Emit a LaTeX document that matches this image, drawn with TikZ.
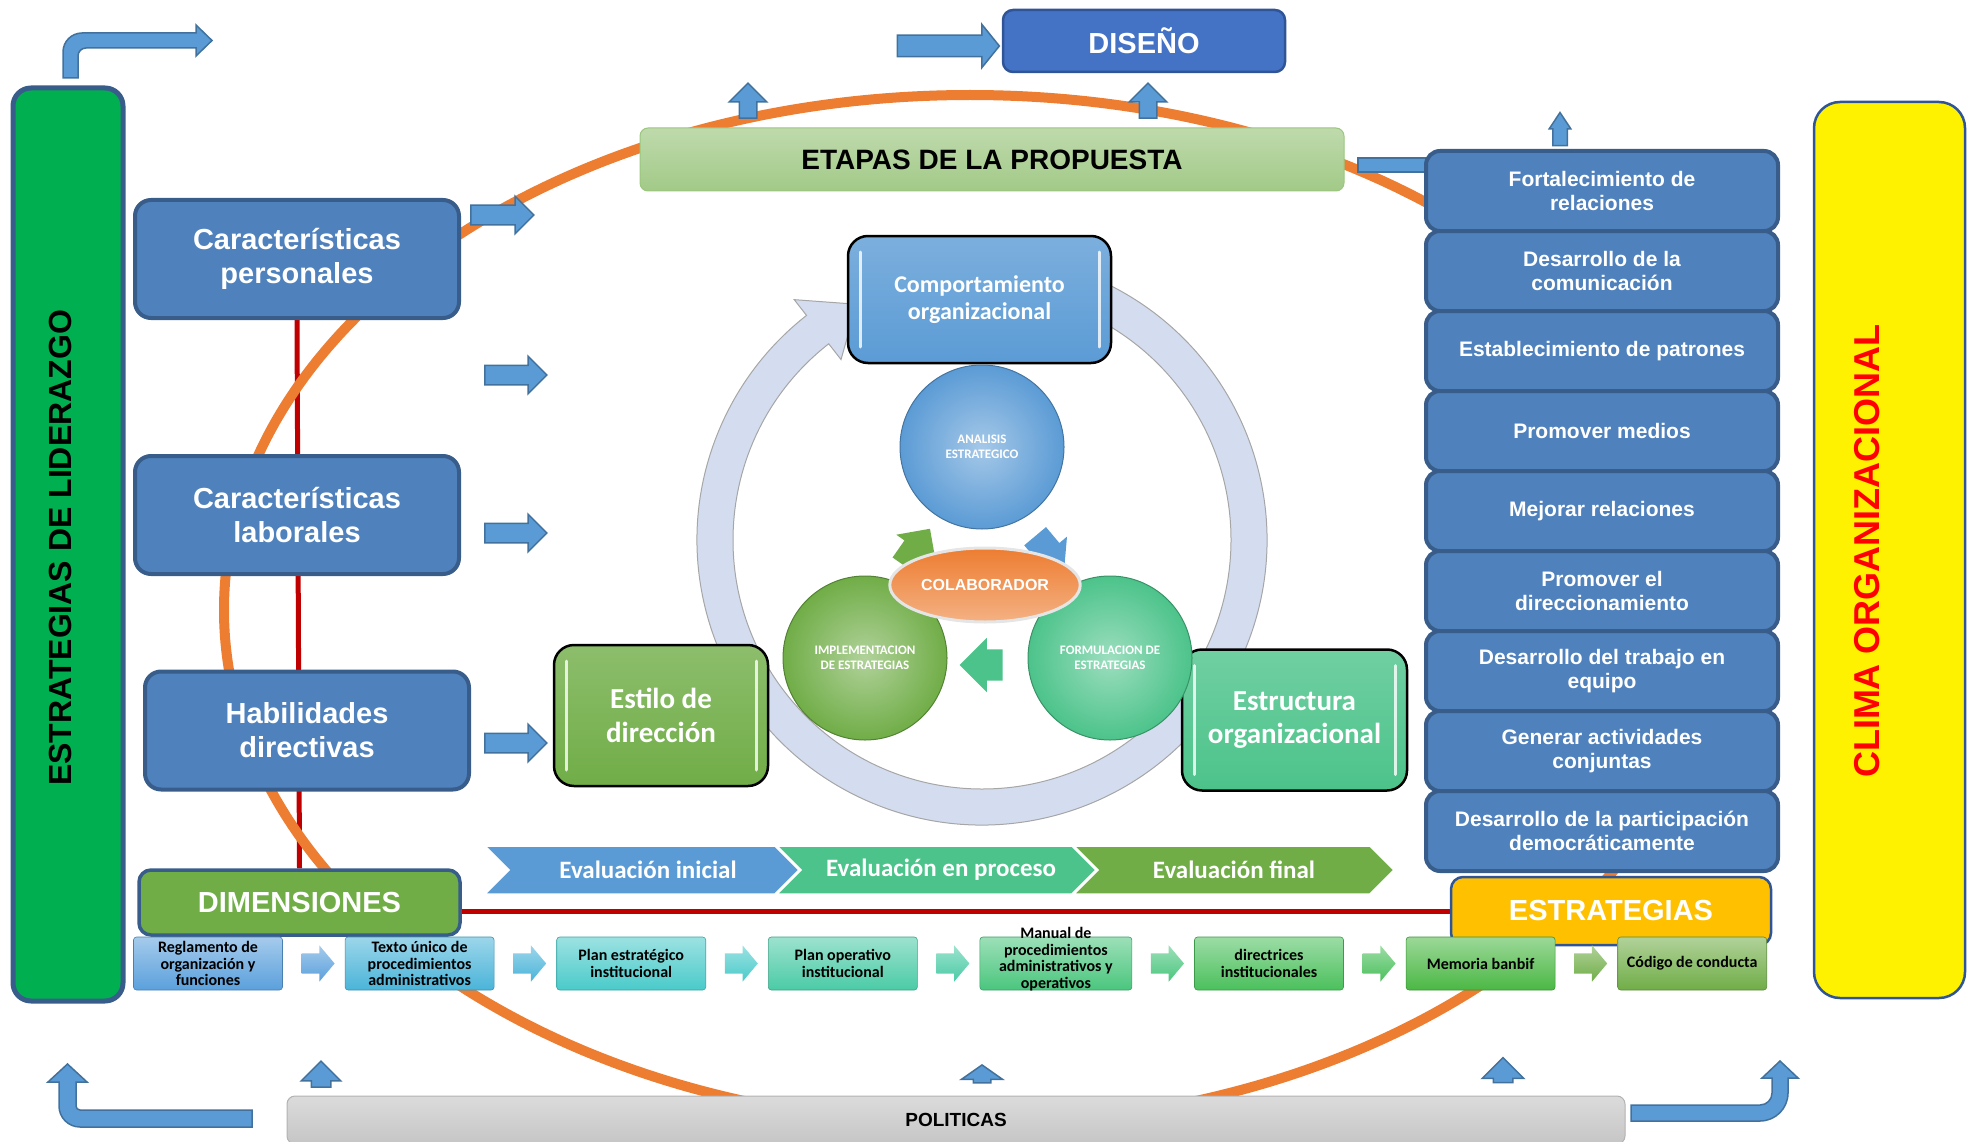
\documentclass[tikz,border=0pt]{standalone}
\usepackage{fontspec}
\setmainfont{Liberation Sans}
\newfontfamily\calibri{Carlito}
\usetikzlibrary{positioning,calc,shapes.arrows,shapes.geometric,backgrounds}

\definecolor{boxblue}{HTML}{4F81BD}
\definecolor{boxrim}{HTML}{385D8A}
\definecolor{arrowblue}{HTML}{5B9BD5}
\definecolor{arrowrim}{HTML}{41719C}
\definecolor{leafgreen}{HTML}{70AD47}
\definecolor{seagreen}{HTML}{4CC38A}
\definecolor{linered}{HTML}{C00000}
\definecolor{ringorange}{HTML}{ED7D31}
\definecolor{cyclefill}{HTML}{D3DDEF}
\definecolor{amber}{HTML}{FFC000}
\definecolor{designblue}{HTML}{4472C4}
\definecolor{bargreen}{HTML}{00B050}
\definecolor{darkrim}{HTML}{2F5597}
\definecolor{docA}{HTML}{5BA0DC}
\definecolor{docB}{HTML}{4BB4D9}
\definecolor{docC}{HTML}{4BCACA}
\definecolor{docD}{HTML}{4BCBA6}
\definecolor{docE}{HTML}{4BC67E}
\definecolor{docF}{HTML}{4BC05C}
\definecolor{docG}{HTML}{4BB844}
\definecolor{docH}{HTML}{70AD47}

\begin{document}
\begin{tikzpicture}[x=1pt, y=-1pt,
    leftbox/.style={rectangle, rounded corners=16, draw=boxrim, line width=4, fill=boxblue,
      text=white, align=center, minimum width=324, minimum height=118,
      font=\bfseries\fontsize{29}{34}\selectfont},
    colbox/.style={rectangle, rounded corners=14, draw=boxrim, line width=4, fill=boxblue,
      text=white, align=center, minimum width=352, minimum height=80, outer sep=0,
      font=\bfseries\fontsize{21}{24.5}\selectfont},
    titlebox/.style={rectangle, rounded corners=10, line width=2.5, text=white,
      font=\bfseries\fontsize{29}{34}\selectfont},
    stagebox/.style={rectangle, rounded corners=20, draw=black, line width=2.5,
      top color=#1!80!white, bottom color=#1, text=white, align=center,
      font=\calibri\bfseries\fontsize{29}{33.5}\selectfont,
      path picture={\draw[white, line width=3, line cap=round, opacity=.8]
        ([xshift=12pt,yshift=-16pt]path picture bounding box.north west) --
        ([xshift=12pt,yshift=16pt]path picture bounding box.south west)
        ([xshift=-12pt,yshift=-16pt]path picture bounding box.north east) --
        ([xshift=-12pt,yshift=16pt]path picture bounding box.south east);}},
    ball/.style={circle, minimum size=164, inner sep=0, draw=#1!75!black, line width=1,
      inner color=#1!55!white, outer color=#1, text=white, align=center,
      font=\calibri\bfseries\fontsize{13}{15.5}\selectfont},
    docbox/.style={rectangle, rounded corners=3, draw=#1!80!black, line width=.6,
      top color=#1!55!white, bottom color=#1, minimum width=149, minimum height=53,
      inner sep=1, align=center, font=\calibri\bfseries\fontsize{16}{16.7}\selectfont},
    docarrow/.style={single arrow, top color=#1!55!white, bottom color=#1,
      inner xsep=0, inner ysep=10, single arrow tip angle=100,
      single arrow head extend=8, minimum height=33},
    blockarrow/.style={single arrow, draw=arrowrim, fill=arrowblue, line width=1.5,
      inner xsep=0, inner ysep=9, single arrow head extend=9, minimum height=62},
    cyclearrow/.style={single arrow, fill=#1, inner xsep=0, inner ysep=14,
      minimum height=45, single arrow head extend=10},
    bentarrow/.style={draw=arrowrim, fill=arrowblue, line width=1.5},
    evalstep/.style={draw=white, line width=1.5},
    evallabel/.style={text=white, font=\calibri\bfseries\fontsize{25}{28}\selectfont},
    linkline/.style={linered, line width=5}]

  \useasboundingbox (0,0) rectangle (1975,1142);

  % side frames
  \node[rectangle, rounded corners=18, fill=bargreen, draw=boxrim, line width=5,
        minimum width=110, minimum height=913] (lid) at (68,544.5) {};
  \node[rotate=90, font=\bfseries\fontsize{32}{36}\selectfont] (lidtext) at (60,548) {ESTRATEGIAS DE LIDERAZGO};
  \node[rectangle, rounded corners=26, fill=yellow, draw=darkrim, line width=2.5,
        minimum width=151, minimum height=896] (clima) at (1889.5,550) {};
  \node[rotate=90, text=red, font=\bfseries\fontsize{36}{40}\selectfont] (climatext) at (1867,551) {CLIMA ORGANIZACIONAL};

  % top row
  \node[titlebox, fill=designblue, draw=darkrim, minimum width=282, minimum height=62] (diseno) at (1144,41) {DISEÑO};
  \node[blockarrow, minimum height=102, inner ysep=10, single arrow head extend=11,
        single arrow tip angle=102] (toDiseno) at (944,46) {};
  \node[blockarrow, rotate=90, minimum height=35, inner ysep=8, single arrow head extend=10] (upA) at (748,105) {};
  \node[blockarrow, rotate=90, minimum height=35, inner ysep=8, single arrow head extend=10] (upB) at (1148,105) {};
  \node[rectangle, rounded corners=8, draw=leafgreen!70!white, line width=1,
        top color=leafgreen!45!white, bottom color=leafgreen!65!white,
        minimum width=704, minimum height=63,
        font=\bfseries\fontsize{28}{32}\selectfont] (etapas) at (992,159.5) {ETAPAS DE LA PROPUESTA};

  % left column
  \node[leftbox] (pers) at (297,259) {Características\\personales};
  \node[leftbox] (lab) at (297,515) {Características\\laborales};
  \node[leftbox] (hab) at (307,730.5) {Habilidades\\directivas};
  \node[titlebox, fill=leafgreen, draw=boxrim, line width=3.5, rounded corners=12,
        minimum width=321, minimum height=65] (dim) at (299.5,902.5) {DIMENSIONES};
  \node[titlebox, fill=amber, draw=darkrim, rounded corners=12,
        minimum width=320, minimum height=68] (estr) at (1611,911) {ESTRATEGIAS};

  \begin{pgfonlayer}{background}
    \draw[linkline] (pers.south) -- (dim.north);
    \draw[linkline] (dim.east |- estr.west) -- (estr.west);
    \draw[ringorange, line width=10] (970,610) ellipse [x radius=746, y radius=515];
  \end{pgfonlayer}

  \node[blockarrow, minimum height=63] (persArrow) at (497.5,215) {};
  \node[blockarrow] (midArrow) at (511,375) {};
  \node[blockarrow] (labArrow) at (511,533) {};
  \node[blockarrow] (habArrow) at (511,743) {};

  % cycle in the middle
  \begin{scope}[shift={(982,540)}]
    \filldraw[fill=cyclefill, draw=gray!70, line width=1]
      (-65:285) arc[start angle=-65, end angle=232, radius=285]
      -- (232:305) -- (242:267) -- (232:229) -- (232:249)
      arc[start angle=232, end angle=-65, radius=249] -- cycle;
  \end{scope}

  \node[stagebox=arrowblue, minimum width=263, minimum height=127,
        font=\calibri\bfseries\fontsize{24}{27}\selectfont] (comp) at (979.5,299.5) {Comportamiento\\organizacional};
  \node[stagebox=leafgreen, minimum width=214, minimum height=141] (estilo) at (661,715.5) {Estilo de\\dirección};
  \node[stagebox=seagreen, minimum width=225, minimum height=141] (estruct) at (1294.5,720) {Estructura\\organizacional};

  \node[ball=arrowblue] (analisis) at (982,447) {ANALISIS\\ESTRATEGICO};
  \node[ball=leafgreen] (implem) at (865,658) {IMPLEMENTACION\\DE ESTRATEGIAS};
  \node[ball=seagreen] (formul) at (1110,658) {FORMULACION DE\\ESTRATEGIAS};

  \node[cyclearrow=leafgreen, rotate=55] (toAnalisis) at (913,553) {};
  \node[cyclearrow=arrowblue, rotate=-50] (toFormul) at (1045,548) {};
  \node[cyclearrow=seagreen, rotate=180, minimum height=43, inner ysep=15.5,
        single arrow head extend=11.5] (toImplem) at (989,665) {};

  \node[ellipse, minimum width=182, minimum height=74, draw=gray!20, line width=3,
        top color=ringorange, bottom color=ringorange!60!white, text=white,
        font=\bfseries\fontsize{16}{18}\selectfont] (colab) at (985,585) {COLABORADOR};

  % evaluation steps
  \filldraw[evalstep, fill=arrowblue] (485,846) -- (775,846) -- (799,870) -- (775,894) -- (485,894) -- (509,870) -- cycle;
  \filldraw[evalstep, fill=seagreen] (777,846) -- (1072,846) -- (1096,870) -- (1072,894) -- (777,894) -- (801,870) -- cycle;
  \filldraw[evalstep, fill=leafgreen] (1074,846) -- (1370,846) -- (1394,870) -- (1370,894) -- (1074,894) -- (1098,870) -- cycle;
  \node[evallabel] (ev1) at (648,870) {Evaluación inicial};
  \node[evallabel] (ev2) at (941,870) {Evaluación en proceso};
  \node[evallabel] (ev3) at (1234,870) {Evaluación final};

  % right column
  \node[rectangle, fill=arrowblue, draw=arrowrim, line width=1.5, inner sep=0,
        minimum width=80, minimum height=14] (etapasLink) at (1398,165) {};
  \node[blockarrow, rotate=90, minimum height=33, inner ysep=6.5,
        single arrow head extend=3.5, single arrow tip angle=67] (upCol) at (1560,134.5) {};
  \node[colbox] (col1) at (1602,191) {Fortalecimiento de\\relaciones};
  \node[colbox, below=0pt of col1] (col2) {Desarrollo de la\\comunicación};
  \node[colbox, below=0pt of col2] (col3) {Establecimiento de patrones};
  \node[colbox, below=0pt of col3] (col4) {Promover medios};
  \node[colbox, below=0pt of col4] (col5) {Mejorar relaciones};
  \node[colbox, below=0pt of col5] (col6) {Promover el\\direccionamiento};
  \node[colbox, below=0pt of col6] (col7) {Desarrollo del trabajo en\\equipo};
  \node[colbox, below=0pt of col7] (col8) {Generar actividades\\conjuntas};
  \node[colbox, below=0pt of col8] (col9) {Desarrollo de la participación\\democráticamente};

  % documents
  \node[docbox=docA] (b1) at (208,963.5) {Reglamento de\\organización y\\funciones};
  \node[docbox=docB, right=62pt of b1] (b2) {Texto único de\\procedimientos\\administrativos};
  \node[docbox=docC, right=62pt of b2] (b3) {Plan estratégico\\institucional};
  \node[docbox=docD, right=62pt of b3] (b4) {Plan operativo\\institucional};
  \node[docbox=docE, right=62pt of b4] (b5) {\smash{\parbox[c]{150pt}{\centering Manual de\\procedimientos\\administrativos y\\operativos}}};
  \node[docbox=docF, right=62pt of b5] (b6) {directrices\\institucionales};
  \node[docbox=docG, right=62pt of b6] (b7) {Memoria banbif};
  \node[docbox=docH, right=62pt of b7] (b8) {Código de conducta};
  \node[docarrow=docA] (s1) at ($(b1.east)!.5!(b2.west)$) {};
  \node[docarrow=docB] (s2) at ($(b2.east)!.5!(b3.west)$) {};
  \node[docarrow=docC] (s3) at ($(b3.east)!.5!(b4.west)$) {};
  \node[docarrow=docD] (s4) at ($(b4.east)!.5!(b5.west)$) {};
  \node[docarrow=docE] (s5) at ($(b5.east)!.5!(b6.west)$) {};
  \node[docarrow=docF] (s6) at ($(b6.east)!.5!(b7.west)$) {};
  \node[docarrow=docH] (s7) at ($(b7.east)!.5!(b8.west)$) {};

  % base
  \node[rectangle, rounded corners=8, draw=gray!60, line width=1, top color=gray!28,
        bottom color=gray!45, minimum width=1338, minimum height=48,
        font=\bfseries\fontsize{19}{22}\selectfont] (pol) at (956,1120) {POLITICAS};
  \node[blockarrow, rotate=90, minimum height=26, inner ysep=9,
        single arrow head extend=10] (polUpA) at (321,1079) {};
  \node[blockarrow, rotate=90, minimum height=18, inner ysep=8,
        single arrow head extend=12, single arrow tip angle=110] (polUpB) at (982,1077) {};
  \node[blockarrow, rotate=90, minimum height=25, inner ysep=9,
        single arrow head extend=11] (polUpC) at (1503,1075) {};

  \filldraw[bentarrow] (63,78) -- (63,52) arc[start angle=180, end angle=270, radius=19]
    -- (196,33) -- (196,25) -- (212,40.5) -- (196,56) -- (196,48) -- (86,48)
    arc[start angle=270, end angle=180, radius=8] -- (78,78) -- cycle;
  \filldraw[bentarrow] (252,1110) -- (80,1110) arc[start angle=90, end angle=180, radius=4]
    -- (76,1082) -- (87,1082) -- (67.5,1064) -- (48,1082) -- (59,1082) -- (59,1106)
    arc[start angle=180, end angle=90, radius=21] -- (252,1127) -- cycle;
  \filldraw[bentarrow] (1631,1105) -- (1760,1105) arc[start angle=90, end angle=0, radius=12]
    -- (1772,1078) -- (1762,1078) -- (1780,1061) -- (1798,1078) -- (1788,1078) -- (1788,1093)
    arc[start angle=0, end angle=90, radius=28] -- (1631,1121) -- cycle;
\end{tikzpicture}
\end{document}
